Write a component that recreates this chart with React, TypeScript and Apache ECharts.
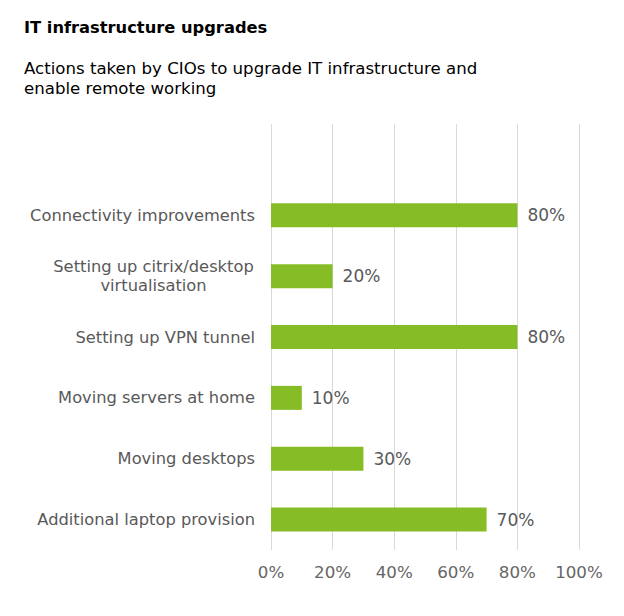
import { useEffect, useRef } from 'react';
import * as echarts from 'echarts';

const categories = [
  'Connectivity improvements',
  'Setting up citrix/desktop\nvirtualisation',
  'Setting up VPN tunnel',
  'Moving servers at home',
  'Moving desktops',
  'Additional laptop provision',
];
const values = [80, 20, 80, 10, 30, 70];
const xTicks = [0, 20, 40, 60, 80, 100];

const FONT = '"DejaVu Sans", Verdana, sans-serif';

export default function App() {
  const chartRef = useRef<HTMLDivElement>(null);

  useEffect(() => {
    if (!chartRef.current) return;
    const chart = echarts.init(chartRef.current, null, { renderer: 'svg' });

    // empty slot on top leaves the gridlines running above the first bar
    const yData = ['', ...categories];
    const seriesData = [null, ...values];

    chart.setOption({
      animation: false,
      backgroundColor: '#fff',
      title: [
        {
          text: 'IT infrastructure upgrades',
          left: 11,
          top: 6,
          textStyle: { fontFamily: FONT, fontSize: 16.3, fontWeight: 'bold', color: '#000' },
        },
        {
          text: 'Actions taken by CIOs to upgrade IT infrastructure and\nenable remote working',
          left: 11,
          top: 45,
          textStyle: { fontFamily: FONT, fontSize: 16.6, fontWeight: 'normal', color: '#000', lineHeight: 20 },
        },
      ],
      grid: { left: 263, right: 37, top: 116, bottom: 58, containLabel: false },
      xAxis: {
        type: 'value',
        min: xTicks[0],
        max: xTicks[xTicks.length - 1],
        interval: 20,
        axisLine: { show: false },
        axisTick: { show: false },
        splitLine: { lineStyle: { color: '#d9d9d9', width: 1 } },
        axisLabel: {
          formatter: '{value}%',
          fontFamily: FONT,
          fontSize: 16.7,
          color: '#666',
          margin: 13,
        },
      },
      yAxis: {
        type: 'category',
        inverse: true,
        data: yData,
        axisLine: { show: false },
        axisTick: { show: false },
        axisLabel: {
          fontFamily: FONT,
          fontSize: 16.3,
          color: '#595959',
          margin: 16,
          lineHeight: 19,
          align: 'right',
          // wrapped labels are centred line by line
          formatter: (v: string) =>
            v.includes('\n')
              ? v.split('\n').map((l) => `{c|${l}}`).join('\n')
              : v,
          rich: {
            c: {
              width: 203,
              align: 'center',
              fontFamily: FONT,
              fontSize: 16.3,
              color: '#595959',
              lineHeight: 19,
            },
          },
        },
      },
      series: [
        {
          type: 'bar',
          data: seriesData,
          barWidth: 24,
          itemStyle: { color: '#86bc25' },
          label: {
            show: true,
            position: 'right',
            distance: 10,
            formatter: '{c}%',
            fontFamily: FONT,
            fontSize: 17,
            color: '#595959',
          },
        },
      ],
    });

    return () => chart.dispose();
  }, []);

  return <div ref={chartRef} style={{ width: 608, height: 600 }} />;
}
